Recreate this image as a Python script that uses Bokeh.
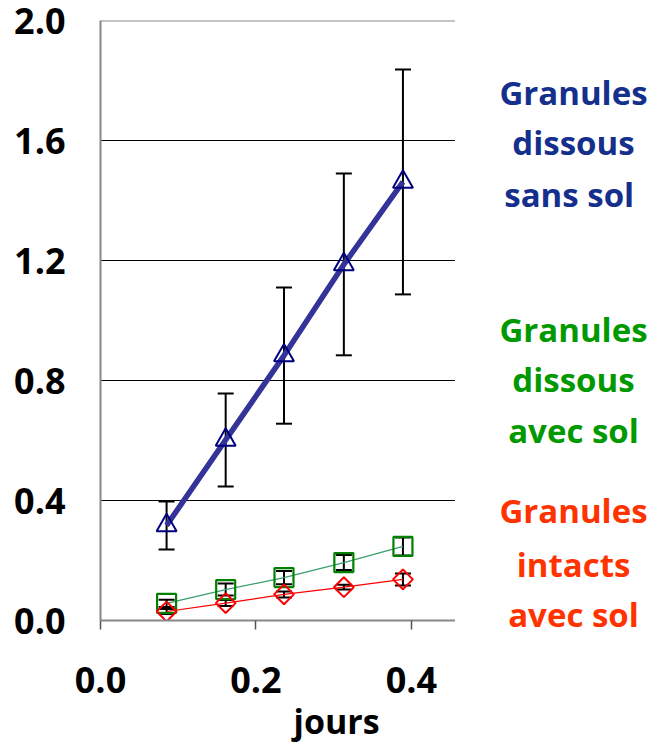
from bokeh.plotting import figure
from bokeh.layouts import row
from bokeh.models import Range1d, FixedTicker, PrintfTickFormatter, Span, Label, Title
from bokeh.embed import file_html
from bokeh.resources import INLINE

# ---- data ----
jours = [0.085, 0.161, 0.236, 0.313, 0.389]
sans_sol = [0.317, 0.602, 0.883, 1.187, 1.462]
sans_sol_err = [0.08, 0.155, 0.227, 0.303, 0.375]
dissous_avec_sol = [0.057, 0.103, 0.143, 0.193, 0.247]
dissous_avec_sol_err = [0.012, 0.02, 0.022, 0.025, 0.03]
intacts_avec_sol = [0.03, 0.058, 0.087, 0.111, 0.137]
intacts_avec_sol_err = [0.008, 0.01, 0.01, 0.008, 0.02]

x_ticks = [0.0, 0.2, 0.4]
y_ticks = [0.0, 0.4, 0.8, 1.2, 1.6, 2.0]
grid_ticks = [0.4, 0.8, 1.2, 1.6]
x_label = "jours"
legend_blue = ["Granules", "dissous", "sans  sol"]
legend_green = ["Granules", "dissous", "avec sol"]
legend_red = ["Granules", "intacts", "avec sol"]

FONT = "Open Sans"
W, H = 656, 744
WL = 455  # width of the chart part

p = figure(width=WL, height=H, output_backend="svg", toolbar_location=None,
           x_range=Range1d(0, 0.4566), y_range=Range1d(0, 2.0),
           min_border_left=100, min_border_right=0, min_border_top=20,
           min_border_bottom=124)
p.outline_line_color = None
p.background_fill_color = "white"
p.border_fill_color = "white"

# axes
for ax in (p.xaxis[0], p.yaxis[0]):
    ax.axis_line_color = "#878787"
    ax.axis_line_width = 2
    ax.major_label_text_font = FONT
    ax.major_label_text_font_style = "bold"
    ax.major_label_text_font_size = "36px"
    ax.major_label_text_color = "black"
    ax.minor_tick_line_color = None
    ax.formatter = PrintfTickFormatter(format="%.1f")
p.xaxis.ticker = FixedTicker(ticks=x_ticks)
p.yaxis.ticker = FixedTicker(ticks=y_ticks)
p.xaxis.major_tick_out = 9
p.xaxis.major_tick_in = 0
p.xaxis.major_tick_line_color = "#555555"
p.xaxis.major_tick_line_width = 1.5
p.xaxis.major_label_standoff = 37
p.yaxis.major_tick_line_color = None
p.yaxis.major_label_standoff = 29
p.yaxis.major_label_text_line_height = 1.0

p.xgrid.grid_line_color = None
p.ygrid.ticker = FixedTicker(ticks=grid_ticks)
p.ygrid.grid_line_color = "black"
p.ygrid.grid_line_width = 1
p.add_layout(Span(location=2.0, dimension="width", line_color="#8a8a8a", line_width=2))

# error bars
def errbars(y, e):
    lo = [a - b for a, b in zip(y, e)]
    hi = [a + b for a, b in zip(y, e)]
    p.segment(x0=jours, y0=lo, x1=jours, y1=hi, line_color="black", line_width=2)
    p.scatter(x=jours, y=lo, marker="dash", size=16, line_color="black", line_width=2)
    p.scatter(x=jours, y=hi, marker="dash", size=16, line_color="black", line_width=2)

errbars(sans_sol, sans_sol_err)
errbars(dissous_avec_sol, dissous_avec_sol_err)
errbars(intacts_avec_sol, intacts_avec_sol_err)

# blue series
p.line(jours, sans_sol, line_color="#333399", line_width=5.5)
p.scatter(jours, sans_sol, marker="triangle", size=20, fill_color=None,
          line_color="#000080", line_width=2)
# green series
p.line(jours, dissous_avec_sol, line_color="#3a9e6e", line_width=1.2)
p.scatter(jours, dissous_avec_sol, marker="square", size=19, fill_color=None,
          line_color="#008000", line_width=2.2)
# red series
p.line(jours, intacts_avec_sol, line_color="#ff0000", line_width=1.2)
p.scatter(jours, intacts_avec_sol, marker="square", size=14, angle=0.785398,
          fill_color=None, line_color="#ff0000", line_width=2)

# axis label as a title below, shifted right like the reference
p.add_layout(Title(text=x_label, align="left", offset=193, text_font=FONT,
                   text_font_style="bold", text_font_size="34px",
                   text_color="black", standoff=0), "below")

# legend panel (no axes, frame covers whole panel)
q = figure(frame_width=W - WL, frame_height=H, output_backend="svg",
           toolbar_location=None, x_range=Range1d(WL, W), y_range=Range1d(H, 0),
           min_border=0, x_axis_location=None, y_axis_location=None)
q.grid.grid_line_color = None
q.outline_line_color = None
q.border_fill_color = "white"

def legend(lines, baselines, color):
    for t, b in zip(lines, baselines):
        q.add_layout(Label(x=573, y=b, text=t, text_font=FONT, text_font_style="bold",
                           text_font_size="33px", text_align="center",
                           text_baseline="alphabetic", text_color=color))

legend(legend_blue, [72, 122, 174], "#142f8c")
legend(legend_green, [309, 359, 410], "#009900")
legend(legend_red, [490, 544, 594], "#ff3300")

layout = row(p, q, spacing=0)
open("out.html", "w").write(file_html(layout, INLINE))
